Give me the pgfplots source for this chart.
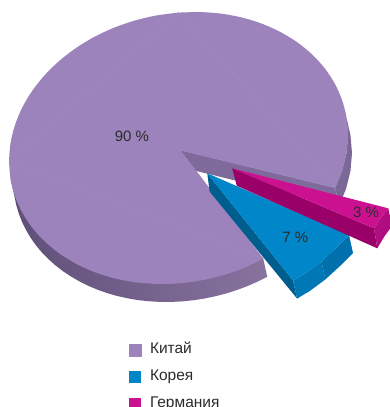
\documentclass[border=0pt]{standalone}
\usepackage{pgfplots}
\pgfplotsset{compat=1.18}
\usepackage{fontspec}
\setmainfont{Liberation Sans}
\definecolor{chinaTop}{HTML}{9D83BC}
\definecolor{chinaInner}{HTML}{7F6B9B}
\definecolor{chinaRight}{HTML}{7C6897}
\definecolor{koreaTop}{HTML}{0086C9}
\definecolor{koreaSide}{HTML}{005E8F}
\definecolor{koreaFrontA}{HTML}{0078B6}
\definecolor{koreaFrontB}{HTML}{0071AD}
\definecolor{germanyTop}{HTML}{CC1190}
\definecolor{germanySide}{HTML}{990068}
\definecolor{germanyFront}{HTML}{B00D80}
\definecolor{labelText}{HTML}{2B2B2B}
\definecolor{wallA}{HTML}{5F4F78}
\definecolor{wallB}{HTML}{88739F}
\begin{document}
\begin{tikzpicture}
\begin{axis}[
  at={(0pt,0pt)}, anchor=south west,
  scale only axis, width=390pt, height=407pt,
  xmin=0, xmax=390, ymin=0, ymax=407, y dir=reverse,
  hide axis,
  legend cell align=left,
  legend image code/.code={\fill[#1] (0pt,-6.5pt) rectangle (12pt,5.5pt);},
  legend style={
    at={(axis cs:129,342.5)}, anchor=north west, draw=none, fill=none,
    inner sep=0pt, outer sep=0pt, row sep=12.8pt,
    font=\fontsize{15.5}{17}\selectfont, text=labelText,
    nodes={inner sep=0pt, text height=11pt, text depth=3pt},
    /tikz/every odd column/.append style={column sep=8.5pt},
  },
]
% rim of the large slice, right-hand side
\addplot[forget plot, fill=chinaRight, draw=none] coordinates {(346.5,117.4) (348,135) (346.5,152.8) (342.2,170.4) (335.1,187.8) (339.1,205.8) (346.2,188.4) (350.5,170.8) (352,153) (350.5,135.4)};
% rim of the large slice, front, darkening to the left
\addplot[forget plot, draw=none, shade, left color=wallA, right color=wallB] coordinates {
  (263.25,258.8) (267.25,276.8) (257.5,281.7) (247.4,286.1) (237,290) (226.4,293.4)
  (215.6,296.2) (204.6,298.5) (193.6,300.2) (182.5,301.4) (171.4,301.9) (160.4,301.9)
  (149.4,301.3) (138.6,300.2) (128,298.4) (117.6,296.1) (107.5,293.2) (97.75,289.8)
  (88.3,285.8) (79.3,281.3) (70.7,276.3) (62.6,270.9) (55,265) (48,258.7)
  (41.5,252) (35.7,245) (30.5,237.6) (25.9,229.8) (22,221.8) (18.8,213.6)
  (16.3,205.2) (14.5,196.6) (10.5,178.6)};
% cut face behind the apex
\addplot[forget plot, fill=chinaInner, draw=none] coordinates {(180,150) (335.1,187.8) (339.1,205.8) (184,168)};
% China, 90 %: three arcs round the outside, then the body between them
\addplot[forget plot, smooth, fill=chinaTop, draw=none] coordinates {
  (263.25,258.8) (243.4,268.1) (222.4,275.4) (200.6,280.5) (178.5,283.4)
  (156.4,283.9) (134.6,282.2) (113.6,278.1) (93.75,271.8) (75.3,263.3) (58.6,252.9)
  (44,240.7) (31.7,227) (21.9,211.8) (14.8,195.6) (10.5,178.6) (9,161)};
\addplot[forget plot, smooth, fill=chinaTop, draw=none] coordinates {
  (9,161) (10.5,143.2) (14.8,125.6) (21.9,108.2) (31.7,91.6) (44,75.9) (58.6,61.5)
  (75.3,48.5) (93.75,37.2) (113.6,27.9) (134.6,20.6) (156.4,15.5) (178.5,12.6)};
\addplot[forget plot, smooth, fill=chinaTop, draw=none] coordinates {
  (178.5,12.6) (200.6,12.1) (222.4,13.8) (243.4,17.9) (263.25,24.2) (281.7,32.7) (298.4,43.1)
  (313,55.3) (325.3,69) (335.1,84.2) (342.2,100.4) (346.5,117.4) (348,135)
  (346.5,152.8) (342.2,170.4) (335.1,187.8)};
\addplot[fill=chinaTop, draw=chinaTop, line width=0.5pt, line join=bevel] coordinates {
  (180,150) (263.25,258.8) (9,161) (178.5,12.6) (335.1,187.8) (180,150)};
\addlegendentry{Китай}
% Korea side and rim
\addplot[forget plot, fill=koreaSide, draw=none] coordinates {(207.3,173.3) (293.1,280.6) (297.1,298.6) (209.6,191.5)};
\addplot[forget plot, fill=koreaFrontA, draw=none] coordinates {(293.1,280.6) (305.5,273.2) (321.4,261.4) (325.4,279.4) (309.5,291.2) (297.1,298.6)};
\addplot[forget plot, fill=koreaFrontB, draw=none] coordinates {(321.4,261.4) (335.6,248.4) (349,235) (353,253) (339.6,266.4) (325.4,279.4)};
% Korea, 7 %
\addplot[fill=koreaTop, draw=none] coordinates {(207.3,173.3) (349,235) (335.6,248.4) (321.4,261.4) (305.5,273.2) (293.1,280.6)};
\addlegendentry{Корея}
% Germany side and rim
\addplot[forget plot, fill=germanySide, draw=none] coordinates {(232.3,168.3) (374,228.3) (377.3,248.3) (236.7,185.7)};
\addplot[forget plot, fill=germanyFront, draw=none] coordinates {(374,228.3) (380.5,218.3) (388.3,208.3) (392,226) (384.5,236.3) (377.3,248.3)};
% Germany, 3 %
\addplot[fill=germanyTop, draw=none] coordinates {(232.3,168.3) (388.3,208.3) (380.5,218.3) (374,228.3)};
\addlegendentry{Германия}
\node[font=\fontsize{15}{18}\selectfont, text=labelText] at (axis cs:132,136.5) {90 \%};
\node[font=\fontsize{15}{18}\selectfont, text=labelText] at (axis cs:295.3,237.5) {7 \%};
\node[font=\fontsize{15}{18}\selectfont, text=labelText] at (axis cs:366,212) {3 \%};
\end{axis}
\pgfresetboundingbox
\path[use as bounding box] (0pt,0pt) rectangle (390pt,407pt);
\end{tikzpicture}
\end{document}
